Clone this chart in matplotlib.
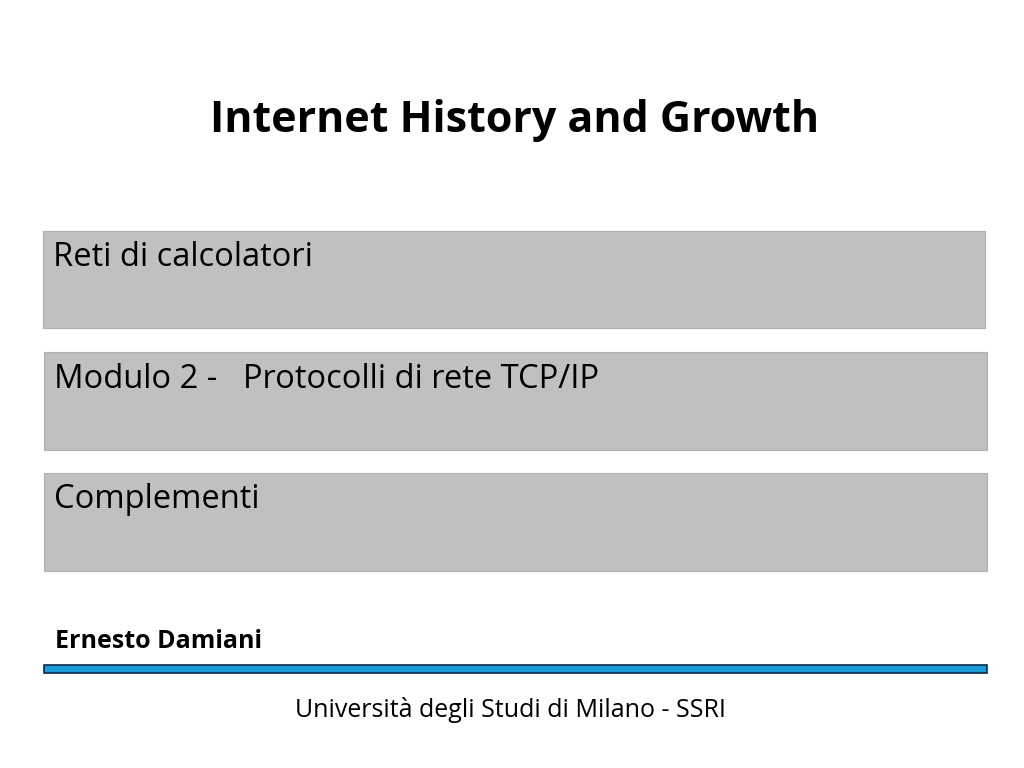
import matplotlib
matplotlib.use("Agg")
import matplotlib.pyplot as plt
from matplotlib.patches import Rectangle

title = "Internet History and Growth"
box_labels = ["Reti di calcolatori", "Modulo 2 -   Protocolli di rete TCP/IP", "Complementi"]
author = "Ernesto Damiani"
footer = "Università degli Studi di Milano - SSRI"

fig = plt.figure(figsize=(10.24, 7.68), dpi=100)
ax = fig.add_axes([0, 0, 1, 1])
ax.set_xlim(0, 1024)
ax.set_ylim(768, 0)
ax.axis("off")
F = "Open Sans"

ax.text(515, 121, title, fontsize=31, fontweight="bold", ha="center", va="center", family=F)
boxes = [(43, 231, 942, 97), (44, 352, 943, 98), (44, 473, 943, 98)]
for (x, y, w, h), lab in zip(boxes, box_labels):
    ax.add_patch(Rectangle((x, y), w, h, facecolor="#c0c0c0", edgecolor="#b0b0b0", lw=0.8))
    ax.text(x + 10, y + 27, lab, fontsize=23.5, ha="left", va="center", family=F)

ax.text(55, 641, author, fontsize=18, fontweight="bold", ha="left", va="center", family=F)
ax.add_patch(Rectangle((44, 665), 943, 8, facecolor="#1a9bd7", edgecolor="#0a2a4a", lw=1.2))
ax.text(510, 710, footer, fontsize=18, ha="center", va="center", family=F)
fig.savefig("out.png", dpi=100)
